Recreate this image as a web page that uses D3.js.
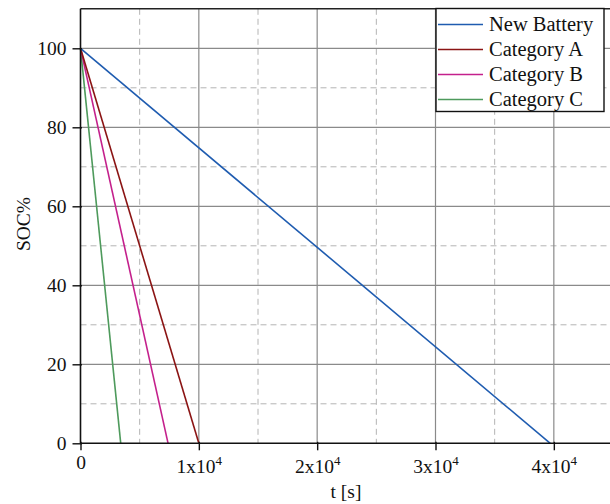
<!DOCTYPE html>
<meta charset="utf-8">
<style>
    body { margin: 0; background: #fff; }
    svg { display: block; }
    svg text { font-family: "Liberation Serif", "DejaVu Serif", serif; }
</style>

<script src="https://d3js.org/d3.v7.min.js"></script>

<svg id="chart" width="610" height="504"></svg>

<script>

// Data

var seriesNames  = ['New Battery', 'Category A', 'Category B', 'Category C'];
var seriesColors = ['#1f5cb0', '#8b1414', '#c4208c', '#4e9a5c'];
var startTimes   = [0, 0, 0, 0];          // s
var startSoc     = [100, 100, 100, 100];  // %
var endTimes     = [39700, 10000, 7400, 3400];
var endSoc       = [0, 0, 0, 0];

var yMajorTicks = [0, 20, 40, 60, 80, 100];
var yMinorTicks = [10, 30, 50, 70, 90];
var xMajorTicks = [0, 10000, 20000, 30000, 40000];
var xMinorTicks = [5000, 15000, 25000, 35000];


// Setup

var svg = d3.select('svg#chart');

var plotLeft = 80.5, plotRight = 613, plotTop = 8.8, plotBottom = 443.3;

var x = d3.scaleLinear().domain([0, 45000]).range([plotLeft, plotRight]);
var y = d3.scaleLinear().domain([0, 110]).range([plotBottom, plotTop]);

var grid = svg.append('g');

// minor (dashed) grid
grid.selectAll('line.ymin').data(yMinorTicks).enter().append('line')
    .attr('x1', plotLeft).attr('x2', plotRight)
    .attr('y1', function (d) { return y(d); }).attr('y2', function (d) { return y(d); })
    .attr('stroke', '#b4b4b4').attr('stroke-width', 1).attr('stroke-dasharray', '6,4');

grid.selectAll('line.xmin').data(xMinorTicks).enter().append('line')
    .attr('y1', plotTop).attr('y2', plotBottom)
    .attr('x1', function (d) { return x(d); }).attr('x2', function (d) { return x(d); })
    .attr('stroke', '#b4b4b4').attr('stroke-width', 1).attr('stroke-dasharray', '6,4');

// major (solid) grid
grid.selectAll('line.ymaj').data(yMajorTicks.slice(1)).enter().append('line')
    .attr('x1', plotLeft).attr('x2', plotRight)
    .attr('y1', function (d) { return y(d); }).attr('y2', function (d) { return y(d); })
    .attr('stroke', '#8a8a8a').attr('stroke-width', 1.2);

grid.selectAll('line.xmaj').data(xMajorTicks.slice(1)).enter().append('line')
    .attr('y1', plotTop).attr('y2', plotBottom)
    .attr('x1', function (d) { return x(d); }).attr('x2', function (d) { return x(d); })
    .attr('stroke', '#8a8a8a').attr('stroke-width', 1.2);

// top frame
svg.append('line').attr('x1', plotLeft).attr('x2', plotRight)
    .attr('y1', plotTop).attr('y2', plotTop).attr('stroke', '#222').attr('stroke-width', 1.4);


// Series lines

var lineFn = d3.line().x(function (d) { return x(d[0]); }).y(function (d) { return y(d[1]); });

var series = seriesNames.map(function (name, i) {
    return { name: name, color: seriesColors[i],
             pts: [[startTimes[i], startSoc[i]], [endTimes[i], endSoc[i]]] };
});

svg.selectAll('path.series').data(series.slice().reverse()).enter().append('path')
    .attr('class', 'series')
    .attr('d', function (d) { return lineFn(d.pts); })
    .attr('fill', 'none')
    .attr('stroke', function (d) { return d.color; })
    .attr('stroke-width', 1.6);


// Axes

var yAxis = svg.append('g').attr('transform', 'translate(' + plotLeft + ',0)')
    .call(d3.axisLeft(y).tickValues(yMajorTicks).tickSize(8).tickPadding(6));

var xAxis = svg.append('g').attr('transform', 'translate(0,' + plotBottom + ')')
    .call(d3.axisBottom(x).tickValues(xMajorTicks).tickSize(7).tickFormat(''));

[yAxis, xAxis].forEach(function (g) {
    g.attr('font-family', null).attr('font-size', null);
    g.select('.domain').attr('stroke', '#111').attr('stroke-width', 1.6);
    g.selectAll('.tick line').attr('stroke', '#111').attr('stroke-width', 1.4);
    g.selectAll('text').attr('fill', '#111').style('font-size', '19.5px');
});
yAxis.select('.domain').attr('d', 'M0,' + plotBottom + 'V' + plotTop);
xAxis.select('.domain').attr('d', 'M' + plotLeft + ',0H' + plotRight);
yAxis.selectAll('.tick line').attr('x2', -8).attr('x1', 1.5);
xAxis.selectAll('.tick line').attr('y1', -1.5).attr('y2', 7);

// x tick labels with superscript exponent
xAxis.selectAll('.tick').each(function (d) {
    var t = d3.select(this).append('text')
        .attr('y', d === 0 ? 26 : 30).attr('text-anchor', 'middle')
        .attr('fill', '#111').style('font-size', '19.5px');
    if (d === 0) {
        t.text('0');
    } else {
        t.append('tspan').text((d / 10000) + 'x10');
        t.append('tspan').attr('dy', -8).style('font-size', '13px').text('4');
    }
});

// axis titles
svg.append('text').attr('x', 346).attr('y', 498)
    .attr('text-anchor', 'middle').style('font-size', '19.5px').attr('fill', '#111')
    .text('t [s]');

svg.append('text')
    .attr('transform', 'translate(30,224) rotate(-90)')
    .attr('text-anchor', 'middle').style('font-size', '19.5px').attr('fill', '#111')
    .text('SOC%');


// Legend

var legend = svg.append('g').attr('transform', 'translate(436,8.5)');
legend.append('rect').attr('width', 168).attr('height', 103)
    .attr('fill', '#fff').attr('stroke', '#111').attr('stroke-width', 1.4);

var rows = legend.selectAll('g.row').data(series).enter().append('g')
    .attr('transform', function (d, i) { return 'translate(0,' + (16 + i * 25) + ')'; });

rows.append('line').attr('x1', 2).attr('x2', 47).attr('y1', 0).attr('y2', 0)
    .attr('stroke', function (d) { return d.color; }).attr('stroke-width', 1.6);

rows.append('text').attr('x', 53).attr('y', 6.5)
    .style('font-size', '20.5px').attr('fill', '#111')
    .text(function (d) { return d.name; });

</script>
